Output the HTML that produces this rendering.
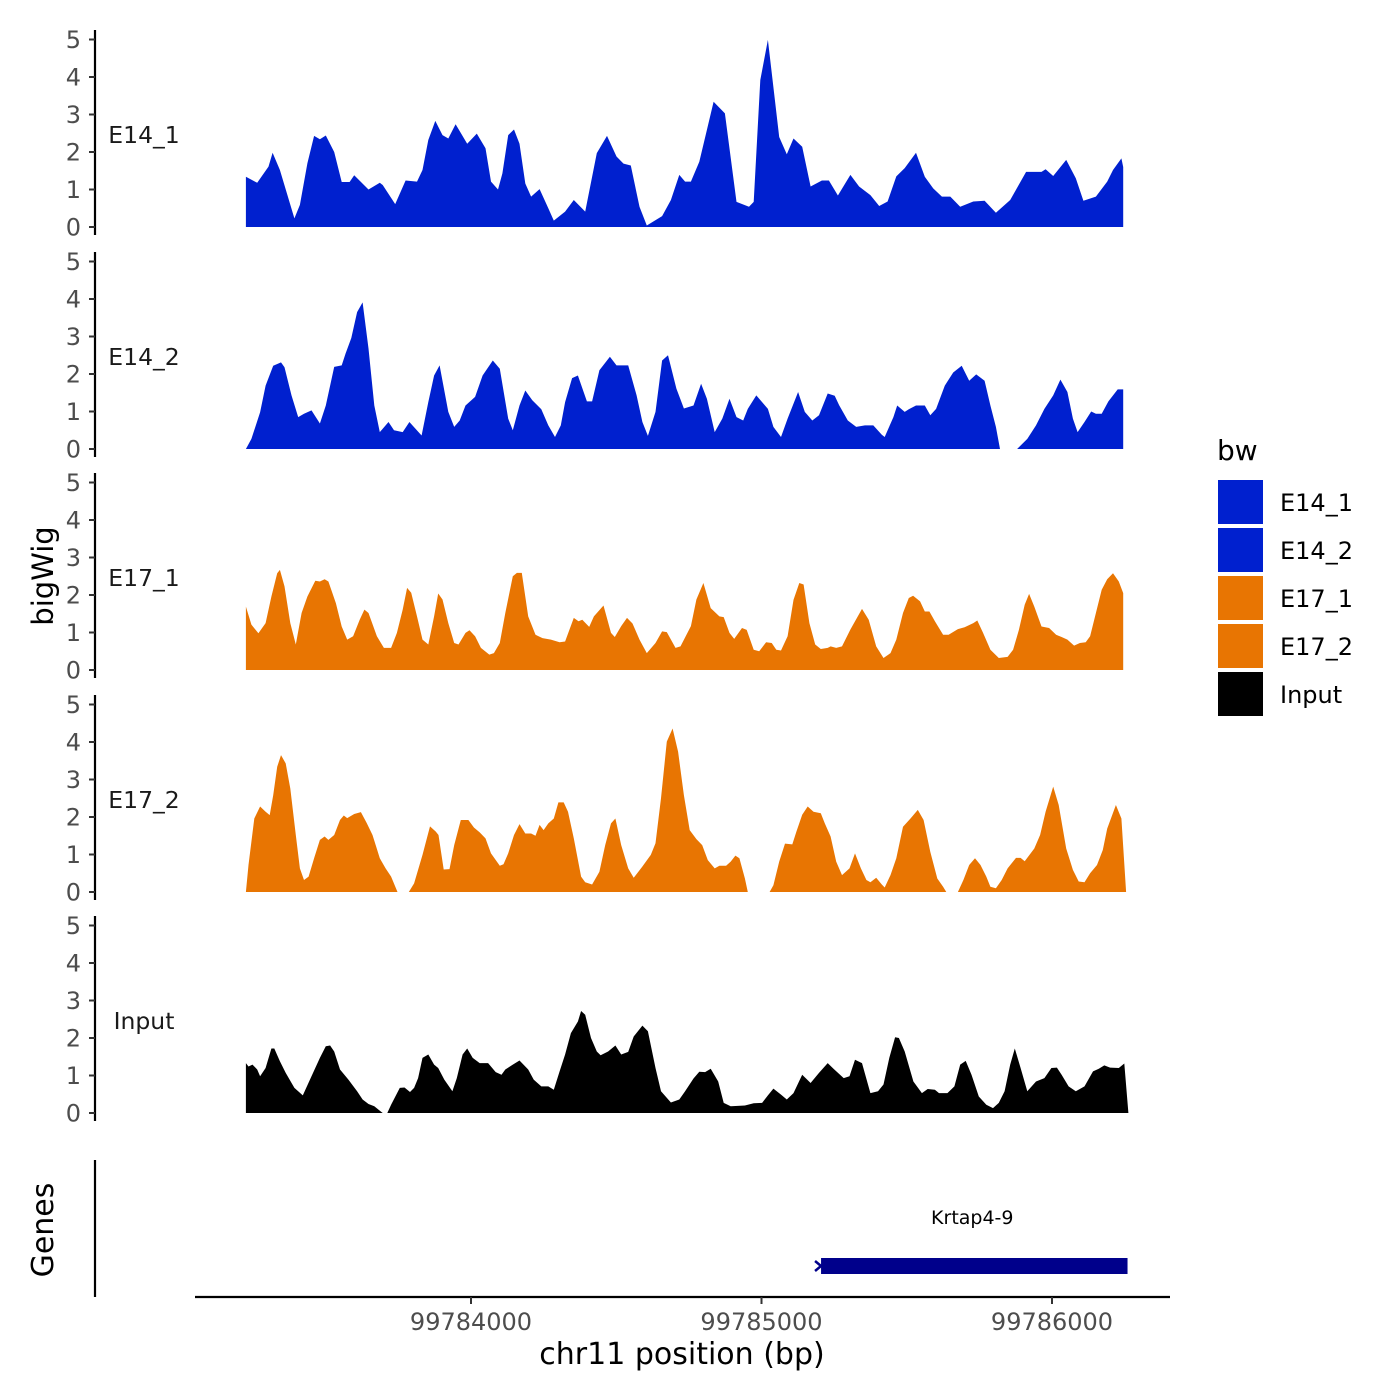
<!DOCTYPE html>
<html><head><meta charset="utf-8"><style>
html,body{margin:0;padding:0;background:#fff;}
svg{display:block;font-family:"DejaVu Sans","Liberation Sans",sans-serif;}
</style></head><body>
<svg id="chart" width="1400" height="1400" viewBox="0 0 1400 1400">
<rect x="0" y="0" width="1400" height="1400" fill="#fff"/>
<g id="tracks"></g>
<g id="axes"></g>
</svg>
<script>
// ---- data ----
const regionStart = 99783205;
const trackNames = ["E14_1","E14_2","E17_1","E17_2","Input"];
const trackColors = ["#0020CF","#0020CF","#E87502","#E87502","#000000"];
const yTicks = [0,1,2,3,4,5];
const xTicks = [99784000,99785000,99786000];
const xTickLabels = ["99784000","99785000","99786000"];

const e14_1_pos = [20,59,98,112,137,187,206,232,255,275,295,324,350,377,393,442,481,491,534,570,609,628,648,672,697,717,742,782,815,845,864,888,903,923,943,962,982,1002,1031,1061,1080,1119,1149,1188,1228,1263,1296,1320,1345,1375,1400,1453,1483,1512,1532,1552,1581,1630,1669,1709,1752,1768,1791,1817,1856,1882,1905,1935,1964,2003,2027,2058,2101,2131,2170,2200,2229,2259,2288,2327,2357,2386,2416,2445,2479,2524,2563,2602,2651,2706,2759,2773,2799,2844,2877,2903,2946,2985,3005,3034,3040];
const e14_1_val = [1.34,1.18,1.61,1.98,1.52,0.23,0.59,1.70,2.43,2.34,2.44,2.00,1.20,1.20,1.38,1.00,1.18,1.12,0.61,1.24,1.21,1.52,2.32,2.83,2.45,2.36,2.74,2.22,2.49,2.10,1.21,1.00,1.43,2.45,2.60,2.22,1.16,0.81,1.01,0.50,0.17,0.41,0.72,0.41,1.97,2.43,1.88,1.69,1.64,0.54,0.04,0.29,0.72,1.39,1.21,1.21,1.74,3.34,3.03,0.67,0.54,0.67,3.92,4.99,2.40,1.94,2.36,2.14,1.08,1.24,1.24,0.84,1.39,1.08,0.85,0.56,0.68,1.35,1.57,1.98,1.34,1.03,0.81,0.81,0.54,0.68,0.70,0.38,0.72,1.47,1.47,1.54,1.36,1.79,1.30,0.70,0.81,1.21,1.52,1.83,1.60];

const e14_2_pos = [20,39,69,88,114,141,153,177,200,220,246,275,295,324,350,363,383,403,422,442,462,481,511,530,560,583,625,648,668,687,717,737,756,776,809,835,870,894,923,939,962,982,1006,1037,1061,1084,1104,1119,1143,1163,1194,1212,1237,1273,1296,1336,1365,1385,1404,1430,1453,1473,1502,1528,1561,1587,1607,1634,1660,1685,1709,1732,1748,1777,1797,1817,1836,1862,1885,1921,1944,1970,1993,2023,2047,2062,2092,2121,2151,2180,2209,2219,2249,2262,2288,2302,2327,2357,2376,2396,2426,2455,2484,2510,2534,2563,2583,2602,2616,2640,2675,2710,2740,2769,2799,2824,2848,2867,2883,2907,2930,2946,2966,2989,3021,3040];
const e14_2_val = [0,0.27,0.98,1.69,2.22,2.31,2.18,1.43,0.85,0.94,1.03,0.68,1.16,2.19,2.23,2.54,2.96,3.65,3.91,2.68,1.16,0.45,0.72,0.50,0.45,0.72,0.36,1.25,1.96,2.23,0.99,0.59,0.76,1.16,1.39,1.96,2.36,2.14,0.81,0.50,1.16,1.56,1.30,1.06,0.63,0.32,0.63,1.25,1.89,1.96,1.27,1.27,2.10,2.46,2.23,2.23,1.43,0.72,0.35,0.99,2.36,2.50,1.61,1.08,1.16,1.74,1.34,0.45,0.81,1.34,0.85,0.76,1.07,1.43,1.25,1.07,0.59,0.32,0.81,1.52,0.99,0.76,0.90,1.48,1.42,1.17,0.76,0.59,0.63,0.63,0.38,0.32,0.85,1.16,0.99,1.06,1.16,1.16,0.90,1.07,1.69,2.04,2.22,1.82,1.99,1.82,1.16,0.59,0,null,0,0.27,0.63,1.07,1.43,1.85,1.52,0.81,0.45,0.72,1.00,0.94,0.94,1.27,1.59,1.59];

const e17_1_pos = [20,39,63,88,108,128,137,153,173,192,212,232,259,275,291,304,330,350,369,389,412,428,442,471,495,520,540,560,575,589,609,628,648,668,682,697,717,737,752,776,790,809,829,858,874,894,913,939,953,970,992,1017,1041,1070,1100,1119,1149,1165,1178,1202,1218,1251,1277,1290,1312,1332,1351,1375,1400,1430,1453,1469,1499,1516,1552,1571,1595,1620,1650,1665,1685,1701,1728,1744,1768,1787,1811,1830,1846,1862,1885,1905,1925,1940,1960,1980,1999,2023,2033,2052,2072,2101,2141,2164,2190,2215,2239,2259,2282,2302,2317,2341,2357,2373,2392,2420,2439,2471,2494,2524,2538,2557,2583,2612,2642,2661,2681,2701,2716,2734,2759,2785,2809,2828,2848,2871,2891,2911,2926,2946,2966,2985,3005,3025,3040];
const e17_1_val = [1.69,1.21,0.98,1.25,1.96,2.58,2.67,2.23,1.25,0.68,1.52,1.96,2.38,2.36,2.42,2.36,1.78,1.16,0.81,0.90,1.34,1.61,1.52,0.90,0.59,0.59,0.99,1.61,2.19,2.06,1.43,0.81,0.68,1.43,2.04,1.88,1.25,0.72,0.68,0.99,1.06,0.90,0.59,0.41,0.45,0.72,1.52,2.50,2.59,2.59,1.43,0.94,0.85,0.81,0.74,0.76,1.39,1.30,1.34,1.15,1.43,1.72,0.99,0.88,1.17,1.39,1.24,0.81,0.45,0.72,1.03,1.01,0.59,0.63,1.17,1.88,2.32,1.65,1.43,1.41,0.99,0.83,1.12,1.07,0.54,0.50,0.74,0.72,0.54,0.52,0.90,1.87,2.32,2.28,1.25,0.68,0.56,0.59,0.63,0.59,0.63,1.08,1.63,1.34,0.63,0.32,0.45,0.81,1.52,1.92,1.98,1.83,1.56,1.56,1.30,0.94,0.94,1.09,1.14,1.25,1.32,1.00,0.54,0.32,0.35,0.54,1.07,1.74,2.03,1.69,1.16,1.12,0.94,0.88,0.81,0.65,0.72,0.74,0.90,1.52,2.14,2.42,2.58,2.36,2.05];

const e17_2_pos = [20,29,49,69,88,102,114,128,141,157,173,192,206,220,236,255,275,291,304,324,344,357,369,393,416,436,456,467,481,501,520,542,560,581,599,628,654,674,683,701,721,737,760,786,805,825,845,864,894,907,923,943,962,982,1002,1017,1031,1045,1061,1080,1096,1114,1129,1149,1174,1188,1212,1237,1257,1277,1292,1312,1336,1355,1385,1414,1430,1449,1469,1489,1508,1528,1548,1571,1591,1610,1634,1650,1673,1689,1705,1719,1738,1748,1790,1823,1836,1856,1876,1901,1915,1935,1954,1974,1999,2013,2033,2052,2072,2098,2117,2137,2156,2170,2190,2209,2219,2239,2259,2282,2308,2333,2353,2376,2400,2420,2431,2450,2471,2490,2510,2530,2549,2569,2583,2602,2622,2642,2671,2687,2701,2734,2754,2773,2799,2818,2844,2867,2887,2907,2926,2950,2970,2985,3015,3034,3050];
const e17_2_val = [0,0.72,1.96,2.28,2.14,2.05,2.58,3.34,3.65,3.43,2.76,1.52,0.63,0.32,0.41,0.90,1.39,1.48,1.39,1.52,1.92,2.04,1.97,2.08,2.13,1.84,1.52,1.25,0.90,0.63,0.41,0,null,0,0.23,0.99,1.75,1.61,1.52,0.60,0.61,1.25,1.92,1.92,1.72,1.59,1.43,1.03,0.70,0.74,1.03,1.52,1.81,1.56,1.56,1.50,1.79,1.65,1.83,1.96,2.39,2.39,2.14,1.43,0.41,0.26,0.20,0.54,1.25,1.83,1.96,1.25,0.63,0.38,0.68,0.99,1.30,2.50,4.01,4.36,3.74,2.58,1.65,1.41,1.25,0.85,0.63,0.70,0.70,0.81,0.97,0.90,0.36,0,null,0,0.18,0.81,1.29,1.27,1.61,2.06,2.28,2.14,2.10,1.83,1.48,0.81,0.45,0.63,1.03,0.63,0.32,0.26,0.38,0.20,0.12,0.45,0.90,1.74,1.96,2.19,1.92,1.07,0.36,0.14,0,null,0,0.32,0.72,0.90,0.72,0.41,0.14,0.10,0.32,0.63,0.91,0.91,0.82,1.16,1.52,2.14,2.81,2.32,1.16,0.59,0.28,0.26,0.50,0.72,1.12,1.69,2.32,1.96,0];

const input_pos = [20,29,43,59,69,88,108,118,137,157,187,216,246,275,295,310,324,344,373,403,422,442,462,491,507,520,550,566,585,599,613,628,648,668,682,703,731,746,766,782,801,825,854,880,900,913,939,962,992,1011,1037,1061,1080,1100,1119,1139,1163,1174,1188,1208,1228,1241,1267,1292,1312,1336,1355,1385,1404,1430,1449,1483,1512,1532,1561,1581,1601,1620,1646,1665,1689,1738,1768,1797,1817,1836,1862,1882,1905,1935,1964,1993,2023,2043,2078,2098,2117,2141,2170,2196,2215,2235,2255,2268,2288,2318,2347,2367,2392,2406,2435,2459,2479,2498,2518,2543,2569,2592,2612,2632,2651,2667,2687,2710,2740,2769,2793,2812,2828,2852,2877,2907,2936,2956,2975,2995,3025,3044,3058];
const input_val = [1.33,1.24,1.29,1.16,0.98,1.20,1.72,1.72,1.38,1.07,0.67,0.47,0.98,1.47,1.78,1.80,1.64,1.16,0.89,0.58,0.36,0.24,0.18,0,0,0.22,0.67,0.68,0.56,0.67,0.93,1.47,1.56,1.29,1.20,0.89,0.58,0.93,1.56,1.72,1.47,1.33,1.33,1.09,1.02,1.16,1.29,1.40,1.16,0.89,0.71,0.71,0.62,1.11,1.56,2.13,2.44,2.72,2.62,2.00,1.64,1.54,1.64,1.80,1.56,1.63,2.04,2.33,2.18,1.20,0.58,0.28,0.36,0.58,0.92,1.10,1.09,1.18,0.84,0.27,0.18,0.20,0.26,0.27,0.47,0.65,0.49,0.36,0.53,1.02,0.80,1.07,1.33,1.18,0.93,0.98,1.42,1.33,0.53,0.58,0.76,1.47,2.02,2.00,1.64,0.84,0.53,0.64,0.62,0.53,0.53,0.71,1.29,1.39,1.02,0.44,0.22,0.13,0.27,0.58,1.29,1.72,1.20,0.58,0.84,0.93,1.20,1.21,1.02,0.71,0.58,0.71,1.11,1.18,1.27,1.21,1.20,1.32,0];

const genePos = [99785205, 99786260];
const geneLabel = "Krtap4-9";

// ---- layout & scales ----
const NS = "http://www.w3.org/2000/svg";
const pxPerBp = 0.2905;
function xScale(bp){ return 471 + (bp - 99784000) * pxPerBp; }
const zeroY = [227, 449, 670, 892, 1113];
const unitPx = 37.5;
function yScale(i, v){ return zeroY[i] - v * unitPx; }
const allPos = [e14_1_pos, e14_2_pos, e17_1_pos, e17_2_pos, input_pos];
const allVal = [e14_1_val, e14_2_val, e17_1_val, e17_2_val, input_val];

function mk(tag, attrs, parent){
  const el = document.createElementNS(NS, tag);
  for (const k in attrs) el.setAttribute(k, attrs[k]);
  parent.appendChild(el);
  return el;
}
const tracksG = document.getElementById('tracks');
const axesG = document.getElementById('axes');

for (let i = 0; i < 5; i++){
  const pos = allPos[i], val = allVal[i];
  let d = "", seg = [];
  const flush = () => {
    if (seg.length < 1) return;
    const x0 = xScale(regionStart + seg[0][0]);
    const x1 = xScale(regionStart + seg[seg.length-1][0]);
    d += "M" + x0.toFixed(1) + "," + zeroY[i];
    for (const p of seg) d += "L" + xScale(regionStart + p[0]).toFixed(1) + "," + yScale(i, p[1]).toFixed(1);
    d += "L" + x1.toFixed(1) + "," + zeroY[i] + "Z";
    seg = [];
  };
  for (let j = 0; j < pos.length; j++){
    if (val[j] === null) { flush(); continue; }
    seg.push([pos[j], val[j]]);
  }
  flush();
  const area = mk('path', {d: d, fill: trackColors[i]}, tracksG);
  
  

  const axl = mk('line', {x1:95, x2:95, y1: zeroY[i]-197, y2: zeroY[i]+8, stroke:'#000', 'stroke-width':2.2}, axesG);
  
  
  for (const t of yTicks){
    const y = yScale(i, t);
    const tk = mk('line', {x1:89, x2:95, y1:y, y2:y, stroke:'#333', 'stroke-width':2}, axesG);
    
    
    const tl = mk('text', {x:81, y:y+8.5, 'text-anchor':'end', 'font-size':24, fill:'#4d4d4d'}, axesG);
    tl.textContent = String(t);
    
    
  }
  const lab = mk('text', {x:144, y:zeroY[i]-84, 'text-anchor':'middle', 'font-size':23.5, fill:'#1a1a1a'}, axesG);
  lab.textContent = trackNames[i];
  
  
}

const gAx = mk('line', {x1:95, x2:95, y1:1160, y2:1297, stroke:'#000', 'stroke-width':2.2}, axesG);



const xAx = mk('line', {x1:195, x2:1170, y1:1297, y2:1297, stroke:'#000', 'stroke-width':2.2}, axesG);


for (let k = 0; k < xTicks.length; k++){
  const x = xScale(xTicks[k]);
  const tk = mk('line', {x1:x, x2:x, y1:1297, y2:1304, stroke:'#333', 'stroke-width':2}, axesG);
  
  
  const tl = mk('text', {x:x, y:1330, 'text-anchor':'middle', 'font-size':24, fill:'#4d4d4d'}, axesG);
  tl.textContent = xTickLabels[k];
  
  
}

const gx0 = xScale(genePos[0]), gx1 = xScale(genePos[1]);
const gRect = mk('rect', {x:gx0, y:1258, width:gx1-gx0, height:16, fill:'#00008B'}, tracksG);


const gArrow = mk('path', {d:'M'+(gx0-6)+',1261 L'+gx0+',1266 L'+(gx0-6)+',1271', stroke:'#00008B', 'stroke-width':2.5, fill:'none'}, tracksG);


const gLab = mk('text', {x:(gx0+gx1)/2 - 2, y:1224, 'text-anchor':'middle', 'font-size':19, fill:'#000'}, tracksG);
gLab.textContent = geneLabel;



const xt = mk('text', {x:682, y:1364, 'text-anchor':'middle', 'font-size':30, fill:'#000'}, axesG);
xt.textContent = 'chr11 position (bp)';


const yt = mk('text', {x:0, y:0, 'text-anchor':'middle', 'font-size':29, fill:'#000', transform:'translate(53,576) rotate(-90)'}, axesG);
yt.textContent = 'bigWig';


const gt = mk('text', {x:0, y:0, 'text-anchor':'middle', 'font-size':30, fill:'#000', transform:'translate(53,1230) rotate(-90)'}, axesG);
gt.textContent = 'Genes';



const legG = mk('g', {}, axesG);


const lt = mk('text', {x:1217, y:460, 'font-size':28, fill:'#000'}, legG);
lt.textContent = 'bw';


for (let i = 0; i < 5; i++){
  const y = 480 + i*48;
  const r = mk('rect', {x:1218, y:y, width:45, height:44, fill:trackColors[i]}, legG);
  
  
  const t = mk('text', {x:1280, y:y+31, 'font-size':24, fill:'#000'}, legG);
  t.textContent = trackNames[i];
  
  
}
</script>
</body></html>
